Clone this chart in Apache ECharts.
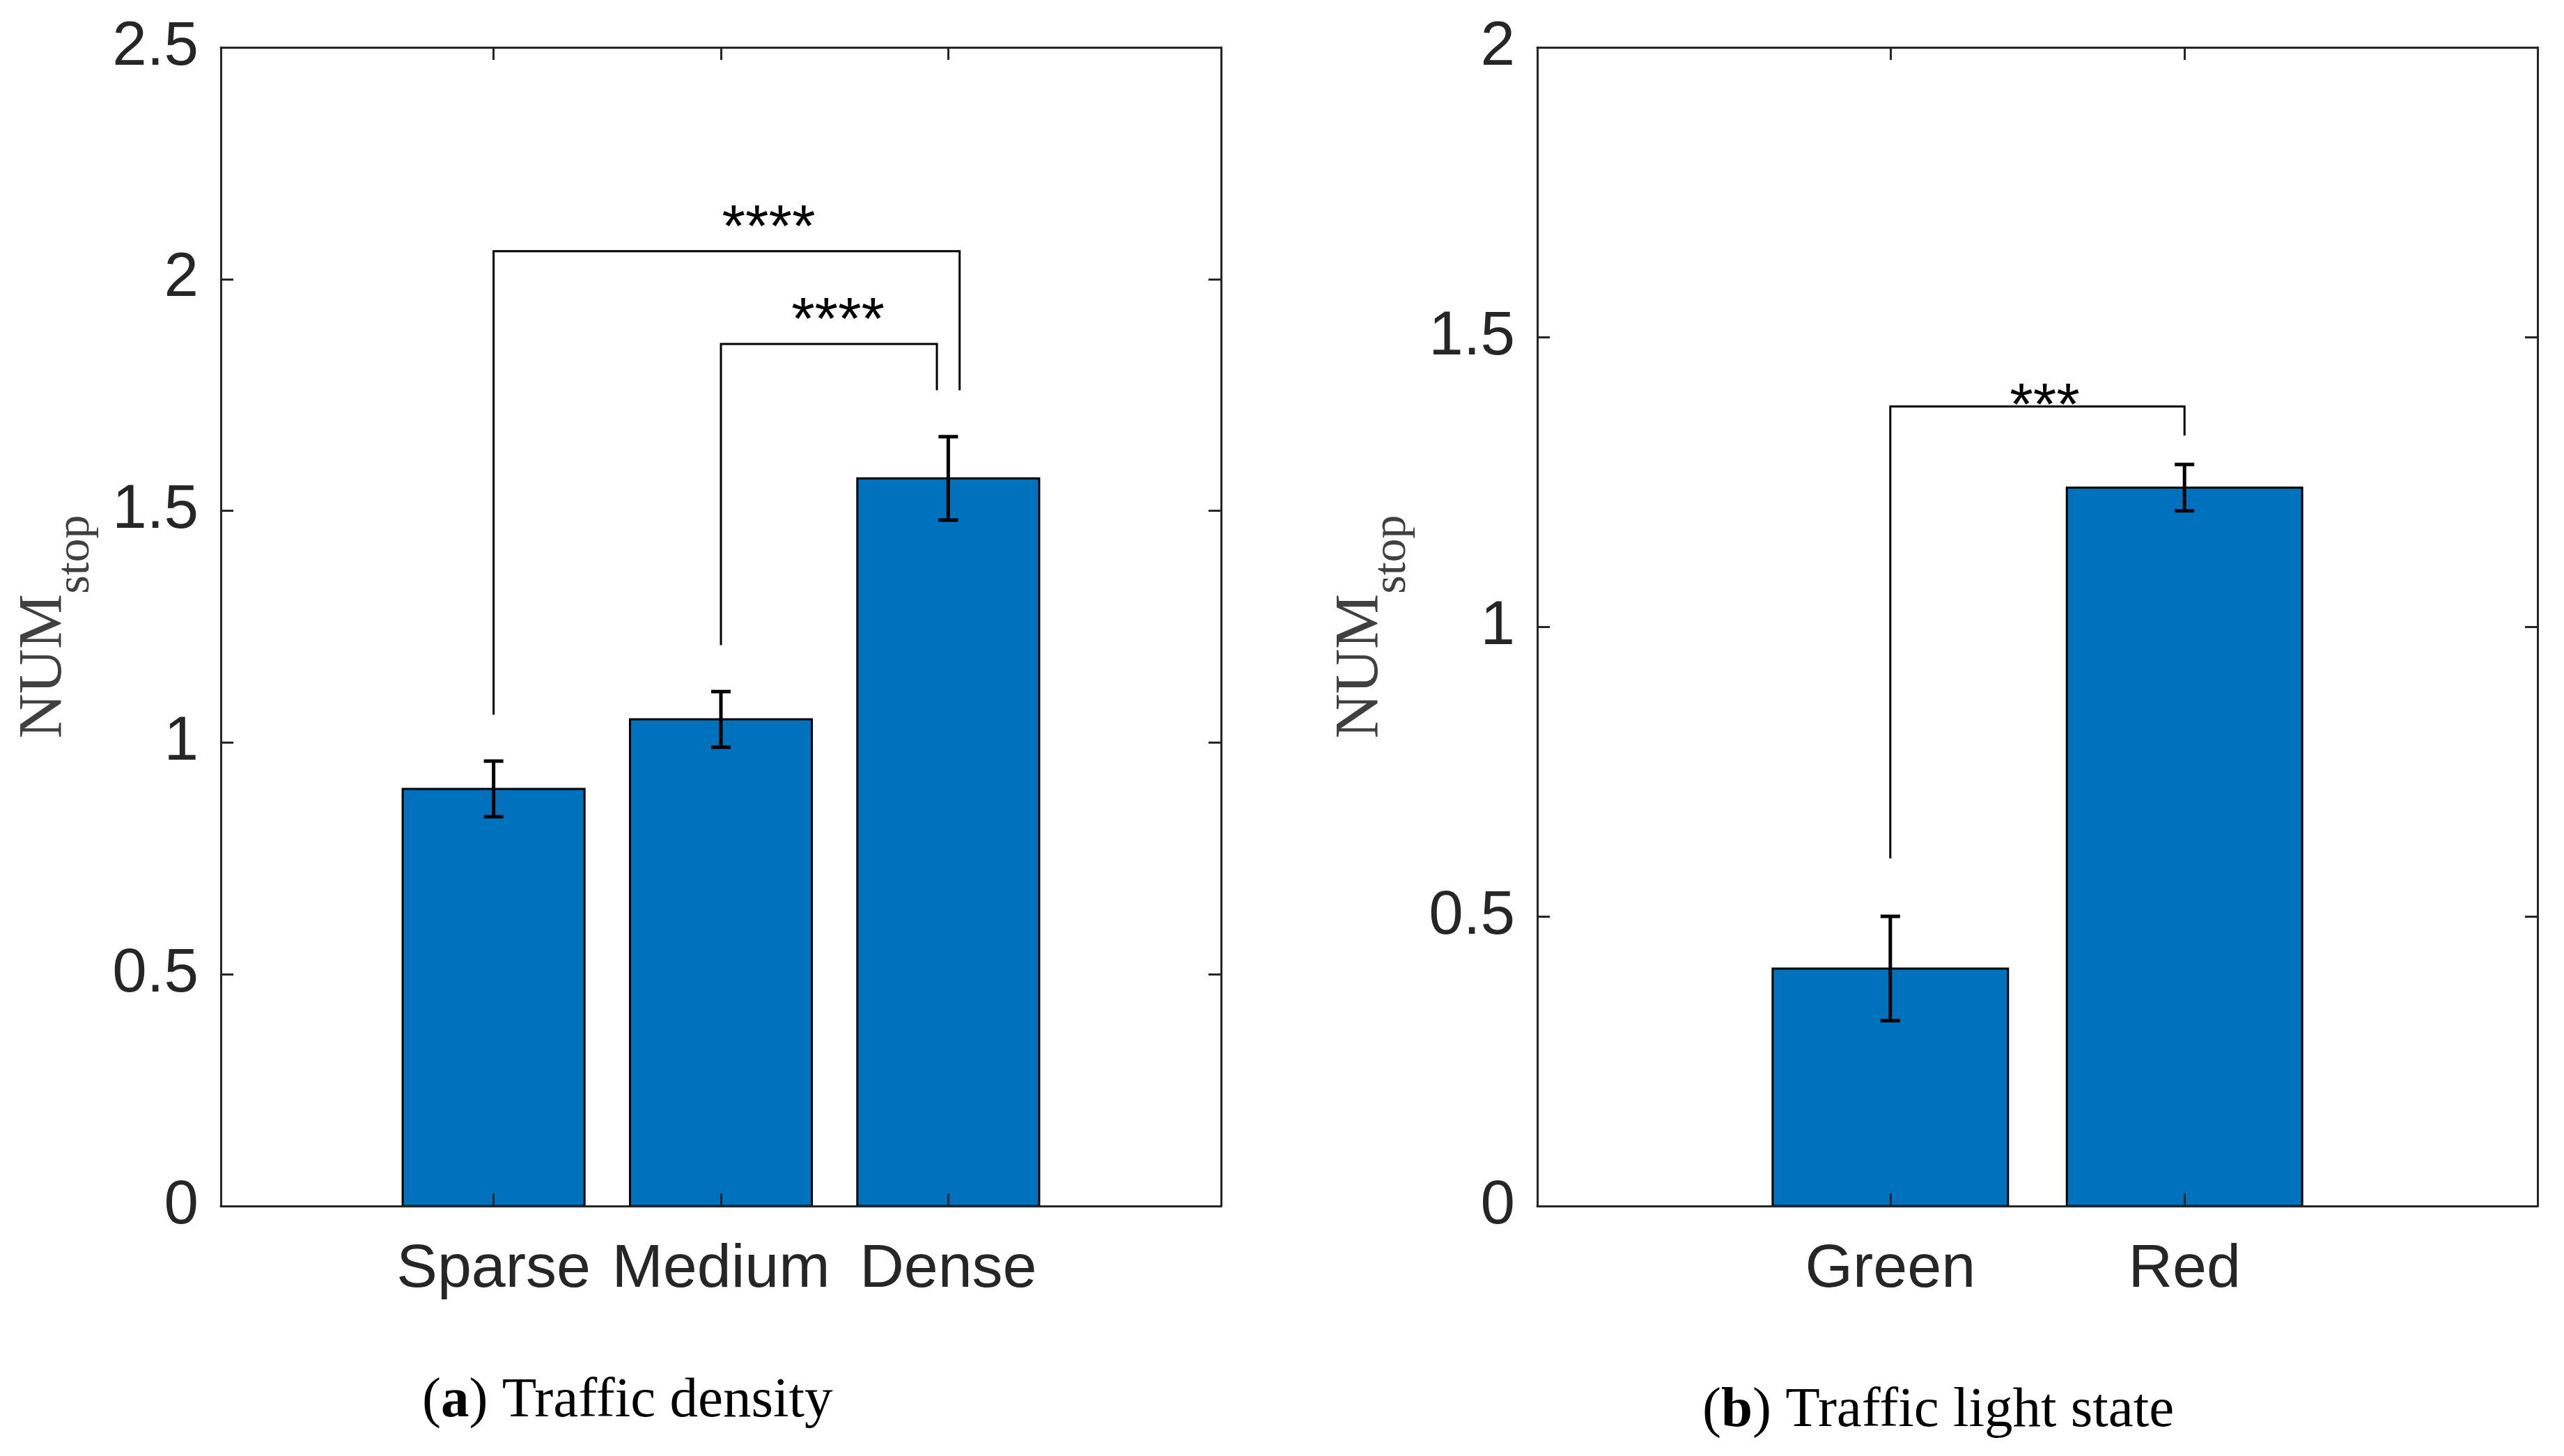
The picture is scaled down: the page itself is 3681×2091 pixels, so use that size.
<!DOCTYPE html>
<html>
<head>
<meta charset="utf-8">
<script src="https://cdn.jsdelivr.net/npm/echarts@6/dist/echarts.min.js"></script>
<style>
html, body { margin: 0; padding: 0; background: #fff; }
#chart { width: 3681px; height: 2091px; }
</style>
</head>
<body>
<div id="chart"></div>
<script>
// (a) traffic density
const densityCategories = ["Sparse", "Medium", "Dense"];
const densityValues = [0.90, 1.05, 1.57];
const densityErrors = [0.06, 0.06, 0.09];
const densityTicks = [0, 0.5, 1, 1.5, 2, 2.5];
// brackets: [x left, x right, left leg bottom, top, right leg bottom]
const densityBrackets = [
    [1, 3.05, 1.06, 2.06, 1.76],
    [2, 2.95, 1.21, 1.86, 1.76]
];
const densityStars = ["****", "****"];
const densityStarPos = [[2.21, 2.135], [2.515, 1.935]];

// (b) traffic light state
const lightCategories = ["Green", "Red"];
const lightValues = [0.41, 1.24];
const lightErrors = [0.09, 0.04];
const lightTicks = [0, 0.5, 1, 1.5, 2];
const lightBrackets = [
    [1, 2, 0.60, 1.38, 1.33]
];
const lightStars = ["***"];
const lightStarPos = [[1.525, 1.40]];

const AXIS = "#262626";
const SANS = "'Liberation Sans', Arial, Helvetica, sans-serif";
const SERIF = "'Liberation Serif', 'Times New Roman', serif";

const chart = echarts.init(document.getElementById("chart"));

const xAxes = [];
const yAxes = [];
const series = [];

function axisCommon(g) {
    return {
        gridIndex: g,
        type: "value",
        splitLine: { show: false },
        axisLine: { show: true, onZero: false, lineStyle: { color: AXIS, width: 3 } },
        z: 5
    };
}

function addPanel(g, cats, vals, errs, ticks, brackets, stars, starPos) {

    const pos = cats.map((c, i) => i + 1);
    const xMax = cats.length + 1.2;
    const yMax = ticks[ticks.length - 1];
    const tickStyle = { show: true, inside: true, length: 18, lineStyle: { color: AXIS, width: 3 } };

    xAxes.push(Object.assign(axisCommon(g), {
        min: -0.2, max: xMax, position: "bottom",
        axisTick: Object.assign({ customValues: pos }, tickStyle),
        axisLabel: {
            customValues: pos,
            formatter: v => cats[Math.round(v) - 1],
            margin: 92,
            verticalAlign: "middle",
            fontSize: 88,
            fontFamily: SANS,
            color: AXIS
        }
    }));
    xAxes.push(Object.assign(axisCommon(g), {
        min: -0.2, max: xMax, position: "top",
        axisTick: Object.assign({ customValues: pos }, tickStyle),
        axisLabel: { show: false }
    }));

    yAxes.push(Object.assign(axisCommon(g), {
        min: 0, max: yMax, position: "left",
        axisTick: Object.assign({ customValues: ticks }, tickStyle),
        axisLabel: {
            customValues: ticks,
            margin: 32,
            fontSize: 89,
            fontFamily: SANS,
            color: AXIS
        },
        name: "{n|NUM}{s|stop}",
        nameLocation: "middle",
        nameRotate: 90,
        nameGap: 203,
        nameMoveOverlap: false,
        nameTextStyle: {
            color: "#404040",
            fontFamily: SERIF,
            rich: {
                n: { fontSize: 89, lineHeight: 100, fontFamily: SERIF, color: "#404040" },
                s: { fontSize: 68, lineHeight: 70, padding: [90, 0, 0, 0], fontFamily: SERIF, color: "#404040" }
            }
        }
    }));
    yAxes.push(Object.assign(axisCommon(g), {
        min: 0, max: yMax, position: "right",
        axisTick: Object.assign({ customValues: ticks }, tickStyle),
        axisLabel: { show: false }
    }));

    const xi = g * 2;
    const yi = g * 2;

    // bars
    series.push({
        type: "custom",
        xAxisIndex: xi,
        yAxisIndex: yi,
        z: 2,
        data: pos.map((x, i) => [x, vals[i]]),
        renderItem: (params, api) => {
            const base = api.coord([api.value(0), 0]);
            const top = api.coord([api.value(0), api.value(1)]);
            const w = api.size([0.8, 0])[0];
            return {
                type: "rect",
                shape: { x: base[0] - w / 2, y: top[1], width: w, height: base[1] - top[1] },
                style: { fill: "#0072BD", stroke: "#000", lineWidth: 3 }
            };
        }
    });

    // error bars
    series.push({
        type: "custom",
        xAxisIndex: xi,
        yAxisIndex: yi,
        z: 6,
        data: pos.map((x, i) => [x, vals[i], errs[i]]),
        renderItem: (params, api) => {
            const x = api.value(0), y = api.value(1), e = api.value(2);
            const hi = api.coord([x, y + e]);
            const lo = api.coord([x, y - e]);
            const cap = 14;
            const st = { stroke: "#000", lineWidth: 5 };
            return {
                type: "group",
                children: [
                    { type: "line", shape: { x1: hi[0], y1: hi[1], x2: lo[0], y2: lo[1] }, style: st },
                    { type: "line", shape: { x1: hi[0] - cap, y1: hi[1], x2: hi[0] + cap, y2: hi[1] }, style: st },
                    { type: "line", shape: { x1: lo[0] - cap, y1: lo[1], x2: lo[0] + cap, y2: lo[1] }, style: st }
                ]
            };
        }
    });

    // significance brackets
    series.push({
        type: "custom",
        xAxisIndex: xi,
        yAxisIndex: yi,
        z: 6,
        data: brackets,
        renderItem: (params, api) => {
            const x1 = api.value(0), x2 = api.value(1);
            const pts = [
                api.coord([x1, api.value(2)]),
                api.coord([x1, api.value(3)]),
                api.coord([x2, api.value(3)]),
                api.coord([x2, api.value(4)])
            ];
            return {
                type: "polyline",
                shape: { points: pts },
                style: { stroke: "#000", lineWidth: 3, fill: null }
            };
        }
    });

    // stars
    series.push({
        type: "custom",
        xAxisIndex: xi,
        yAxisIndex: yi,
        z: 7,
        data: starPos,
        renderItem: (params, api) => {
            const p = api.coord([api.value(0), api.value(1)]);
            return {
                type: "text",
                x: p[0],
                y: p[1] + 19,
                style: {
                    text: stars[params.dataIndex],
                    fill: "#000",
                    fontSize: 86,
                    fontFamily: SANS,
                    align: "center",
                    verticalAlign: "middle"
                }
            };
        }
    });
}

addPanel(0, densityCategories, densityValues, densityErrors, densityTicks,
    densityBrackets, densityStars, densityStarPos);
addPanel(1, lightCategories, lightValues, lightErrors, lightTicks,
    lightBrackets, lightStars, lightStarPos);

const captionRich = {
    p: { fontSize: 81, lineHeight: 80, fontFamily: SERIF, color: "#000", fontWeight: "normal" },
    b: { fontSize: 81, lineHeight: 80, fontFamily: SERIF, color: "#000", fontWeight: "bold" }
};

chart.setOption({
    animation: false,
    backgroundColor: "#fff",
    title: [
        { text: "{p|(}{b|a}{p|) Traffic density}", left: 606, top: 1973, padding: 0,
          textStyle: { fontWeight: "normal", rich: captionRich } },
        { text: "{p|(}{b|b}{p|) Traffic light state}", left: 2444, top: 1987, padding: 0,
          textStyle: { fontWeight: "normal", rich: captionRich } }
    ],
    grid: [
        { left: 317, top: 68, width: 1436, height: 1664, outerBoundsMode: "none" },
        { left: 2207, top: 68, width: 1436, height: 1664, outerBoundsMode: "none" }
    ],
    xAxis: xAxes,
    yAxis: yAxes,
    series: series
});
</script>
</body>
</html>
